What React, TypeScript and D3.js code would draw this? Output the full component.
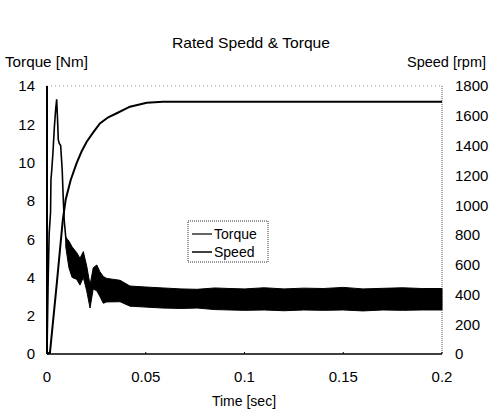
import React from "react";
import * as d3 from "d3";

// ---- data ----
const xTicks = [0, 0.05, 0.1, 0.15, 0.2];
const xTickLabels = ["0", "0.05", "0.1", "0.15", "0.2"];
const torqueTicks = [0, 2, 4, 6, 8, 10, 12, 14];
const speedTicks = [0, 200, 400, 600, 800, 1000, 1200, 1400, 1600, 1800];

// torque transient (s, Nm)
const torqueTime = [0, 0.0006, 0.0011, 0.0018, 0.002, 0.0024, 0.003, 0.0037, 0.0044, 0.0049, 0.0054, 0.0057, 0.0062, 0.0069, 0.0074, 0.0077, 0.0082, 0.0087, 0.0095, 0.01];
const torqueValue = [0, 3.9, 6.3, 7.4, 9.1, 9.6, 10.5, 11.8, 12.8, 13.3, 12.1, 11.2, 11.0, 10.9, 10.1, 9.6, 8.2, 7.0, 6.1, 5.8];

// torque ripple band envelope (s, Nm upper / lower)
const bandTime = [0.0095, 0.0111, 0.0127, 0.015, 0.0167, 0.0184, 0.0201, 0.0218, 0.0234, 0.0252, 0.0268, 0.0285, 0.0302, 0.037, 0.042, 0.05, 0.0587, 0.068, 0.076, 0.085, 0.0927, 0.1, 0.11, 0.12, 0.13, 0.14, 0.15, 0.16, 0.17, 0.18, 0.19, 0.2];
const bandUpper = [6.1, 5.9, 5.6, 5.3, 5.0, 5.35, 4.6, 3.6, 4.5, 4.65, 4.3, 4.05, 3.95, 3.85, 3.55, 3.5, 3.45, 3.4, 3.38, 3.45, 3.42, 3.4, 3.46, 3.4, 3.44, 3.42, 3.48, 3.4, 3.43, 3.46, 3.42, 3.42];
const bandLower = [5.6, 4.5, 4.0, 3.9, 3.6, 4.0, 3.3, 2.4, 3.4, 3.3, 3.0, 2.65, 2.72, 2.73, 2.5, 2.45, 2.4, 2.38, 2.4, 2.32, 2.3, 2.28, 2.3, 2.26, 2.3, 2.28, 2.3, 2.25, 2.3, 2.28, 2.3, 2.3];

// speed (s, rpm)
const speedTime = [0, 0.0015, 0.005, 0.008, 0.0095, 0.012, 0.015, 0.0175, 0.0201, 0.0235, 0.0268, 0.031, 0.0353, 0.042, 0.0505, 0.0587, 0.2];
const speedValue = [0, 10, 480, 900, 1040, 1169, 1282, 1360, 1426, 1490, 1549, 1590, 1617, 1661, 1688, 1694, 1695];

const W = 490;
const H = 414;
const L = 47, R = 442, T = 86, B = 354;
const FONT = "'Liberation Sans', Arial, sans-serif";

export default function App() {
  const x = d3.scaleLinear().domain([0, 0.2]).range([L, R]);
  const yT = d3.scaleLinear().domain([0, 14]).range([B, T]);
  const yS = d3.scaleLinear().domain([0, 1800]).range([B, T]);

  const torquePts = torqueTime.map((t, i) => [t, torqueValue[i]] as [number, number]);
  const bandPts = bandTime.map((t, i) => ({ t, u: bandUpper[i], l: bandLower[i] }));
  const speedPts = speedTime.map((t, i) => [t, speedValue[i]] as [number, number]);

  const tLine = d3.line<[number, number]>().x(d => x(d[0])).y(d => yT(d[1]));
  const sLine = d3.line<[number, number]>().x(d => x(d[0])).y(d => yS(d[1]));
  const band = d3
    .area<{ t: number; u: number; l: number }>()
    .x(d => x(d.t))
    .y0(d => yT(d.l))
    .y1(d => yT(d.u));

  return (
    <svg width={W} height={H} style={{ position: "absolute", left: 0, top: 0, background: "#fff" }} fontFamily={FONT}>
      <rect x={0} y={0} width={W} height={H} fill="#fff" />
      <text x={251} y={48} textAnchor="middle" fontSize={15} textLength={158} lengthAdjust="spacingAndGlyphs">Rated Spedd &amp; Torque</text>
      <text x={5} y={67} fontSize={14.5} textLength={83} lengthAdjust="spacingAndGlyphs">Torque [Nm]</text>
      <text x={486} y={67} textAnchor="end" fontSize={14.5}>Speed [rpm]</text>

      {/* frame */}
      <line x1={L} x2={R} y1={T} y2={T} stroke="#999" strokeDasharray="1 3" />
      <line x1={R} x2={R} y1={T} y2={B} stroke="#555" strokeDasharray="1 1" />
      <line x1={L} x2={L} y1={T} y2={B} stroke="#000" strokeWidth={2} />
      <line x1={L} x2={R} y1={B} y2={B} stroke="#000" strokeWidth={1.5} />

      {/* left ticks */}
      {torqueTicks.map(v => (
        <text key={"l" + v} x={35} y={yT(v)} dy="0.36em" textAnchor="end" fontSize={15}>{v}</text>
      ))}
      {speedTicks.map(v => (
        <text key={"r" + v} x={455} y={yS(v)} dy="0.36em" textAnchor="start" fontSize={15}>{v}</text>
      ))}
      {xTicks.map((v, i) => (
        <g key={"x" + v}>
          <line x1={x(v)} x2={x(v)} y1={B} y2={B - 2} stroke="#000" />
          <text x={x(v)} y={382} textAnchor="middle" fontSize={15}>{xTickLabels[i]}</text>
        </g>
      ))}
      <text x={244} y={406} textAnchor="middle" fontSize={14}>Time [sec]</text>

      {/* data */}
      <path d={band(bandPts) || ""} fill="#000" stroke="#000" strokeWidth={1} />
      <path d={tLine(torquePts) || ""} fill="none" stroke="#000" strokeWidth={1.6} />
      <path d={sLine(speedPts) || ""} fill="none" stroke="#000" strokeWidth={2} />

      {/* legend */}
      <rect x={188} y={221} width={80} height={41} fill="#fff" stroke="#333" strokeDasharray="1 1" />
      <line x1={192} x2={212} y1={234} y2={234} stroke="#000" strokeWidth={1.2} />
      <line x1={192} x2={212} y1={252} y2={252} stroke="#000" strokeWidth={1.5} />
      <text x={214} y={239} fontSize={14}>Torque</text>
      <text x={214} y={257} fontSize={14}>Speed</text>
    </svg>
  );
}
